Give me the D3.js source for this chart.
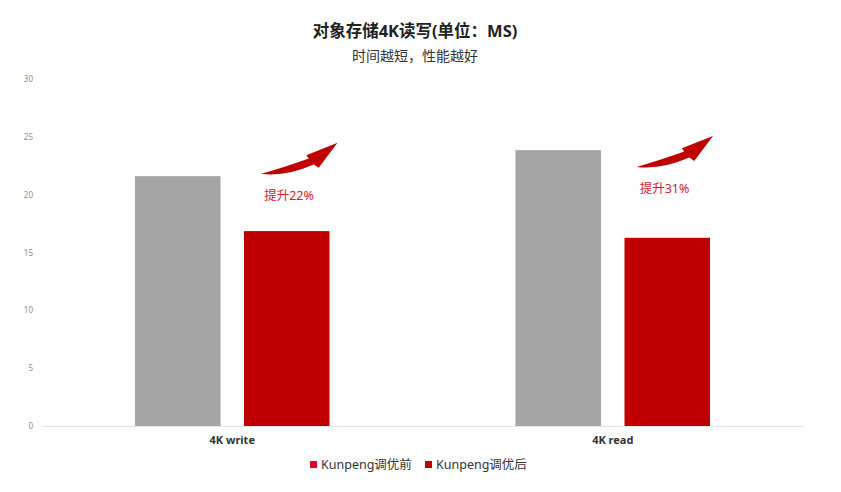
<!DOCTYPE html>
<html><head><meta charset="utf-8">
<script src="https://cdn.jsdelivr.net/npm/d3@7"></script>
<style>
html,body{margin:0;padding:0;background:#fff;}
svg{display:block;font-family:"Noto Sans","Noto Sans CJK SC",sans-serif;}
</style></head>
<body>
<svg id="chart" width="841" height="492"></svg>
<script>
const categories = ["4K write", "4K read"];
const seriesNames = ["Kunpeng调优前", "Kunpeng调优后"];
const beforeValues = [21.6, 23.85];
const afterValues = [16.85, 16.27];
const improvementLabels = ["提升22%", "提升31%"];
const arrowAnchorValues = [21.8, 22.4];
const yTicks = [0, 5, 10, 15, 20, 25, 30];
const title = "对象存储4K读写(单位：MS)";
const subtitle = "时间越短，性能越好";

const barColors = ["#A5A5A5", "#C00000"];
const legendColors = ["#E8002A", "#C00000"];

const svg = d3.select("#chart");
const margin = {left: 42, right: 38, top: 79, bottom: 66};
const W = 841, H = 492;

const x0 = d3.scaleBand().domain(categories).range([margin.left, W - margin.right]).paddingInner(0).paddingOuter(0);
const x1 = d3.scaleBand().domain(seriesNames).range([0, x0.bandwidth()]).paddingInner(0.2156).paddingOuter(0.853);
const y = d3.scaleLinear().domain([0, 30]).range([H - margin.bottom, margin.top]);

// title
svg.append("text").attr("x", 415).attr("y", 37).attr("text-anchor", "middle")
  .attr("font-size", 16.5).attr("font-weight", "bold").attr("fill", "#222").text(title);
svg.append("text").attr("x", 415).attr("y", 61).attr("text-anchor", "middle")
  .attr("font-size", 14).attr("fill", "#333").text(subtitle);

// y axis
const yAxis = d3.axisLeft(y).tickValues(yTicks).tickSize(0).tickPadding(9);
const ya = svg.append("g").attr("transform", `translate(${margin.left},0)`).call(yAxis);
ya.select(".domain").remove();
ya.selectAll("text").attr("font-size", 8).attr("fill", "#8c8c8c").attr("font-family", "'Noto Sans','Noto Sans CJK SC',sans-serif");

// bars
const data = categories.map((c, i) => ({cat: c, vals: [beforeValues[i], afterValues[i]]}));
const groups = svg.append("g").selectAll("g").data(data).join("g")
  .attr("transform", d => `translate(${x0(d.cat)},0)`);
groups.selectAll("rect").data(d => d.vals.map((v, j) => ({s: seriesNames[j], v, j}))).join("rect")
  .attr("x", d => x1(d.s)).attr("width", x1.bandwidth())
  .attr("y", d => y(d.v)).attr("height", d => y(0) - y(d.v))
  .attr("fill", d => barColors[d.j]);

// baseline / x axis
const xAxis = d3.axisBottom(x0).tickSize(0).tickPadding(10);
const xa = svg.append("g").attr("transform", `translate(0,${y(0)})`).call(xAxis);
xa.select(".domain").attr("stroke", "#e3e3e3");
xa.selectAll("text").attr("font-size", 11).attr("font-weight", "bold").attr("fill", "#333")
  .attr("font-family", "'Noto Sans','Noto Sans CJK SC',sans-serif");

// arrows & labels
const arrowShape = "M0,0 Q25,3 52.7,-9.3 L57.7,-6 L76.5,-31 L45.3,-18.7 L47.7,-15.3 Q22,-6 0,0 Z";
const ann = svg.append("g").selectAll("g").data(categories).join("g")
  .attr("transform", (c, i) => `translate(${x0(c) + x1(seriesNames[1]) + 17 - i*5},${y(arrowAnchorValues[i])})`);
ann.append("path").attr("d", arrowShape).attr("fill", "#C00000");
ann.append("text").attr("x", 28).attr("y", 26).attr("text-anchor", "middle")
  .attr("font-size", 12.5).attr("fill", "#D0202A").text((c, i) => improvementLabels[i]);

// legend
const legend = svg.append("g").attr("transform", "translate(310,465)");
const li = legend.selectAll("g").data(seriesNames).join("g")
  .attr("transform", (d, i) => `translate(${i * 115},0)`);
li.append("rect").attr("x", 0).attr("y", -4).attr("width", 7).attr("height", 7).attr("fill", (d, i) => legendColors[i]);
li.append("text").attr("x", 11).attr("y", 4).attr("font-size", 12.5).attr("fill", "#333").text(d => d);
</script>
</body></html>
